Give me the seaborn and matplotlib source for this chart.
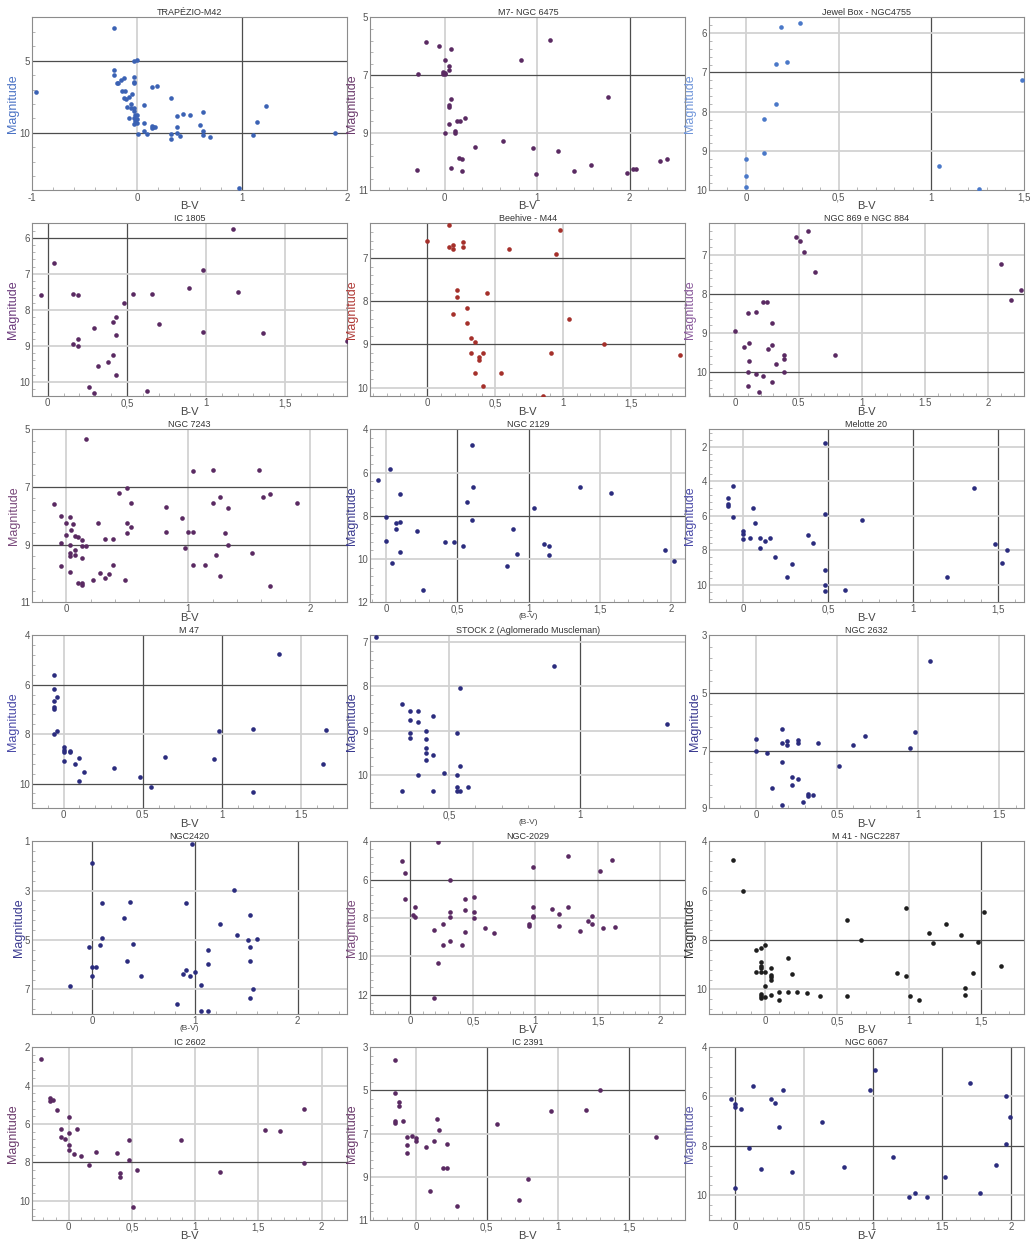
import matplotlib
matplotlib.use("Agg")
import pandas as pd
import matplotlib.pyplot as plt
import seaborn as sns
from matplotlib.ticker import FixedLocator, FixedFormatter, AutoMinorLocator

# ===========================================================
# Data: B-V colour index and visual magnitude per cluster
# ===========================================================

trap_bv = [-0.22, -0.96, -0.22, -0.22, -0.03, 0.00, -0.19, -0.12, -0.15, -0.18, -0.14, -0.11, -0.05, -0.03,
           -0.03, -0.03, -0.12, -0.10, -0.08, -0.06, -0.09, -0.06, -0.03, -0.03, -0.08, -0.02, 0.00, -0.03,
           0.00, -0.02, 0.00, -0.03, 0.01, 0.07, 0.07, 0.07, 0.10, 0.14, 0.15, 0.17, 0.14, 0.14, 0.19, 0.32,
           0.32, 0.32, 0.38, 0.38, 0.38, 0.41, 0.44, 0.51, 0.60, 0.63, 0.63, 0.63, 0.70, 0.97, 1.11, 1.14,
           1.23, 1.89]
trap_mag = [2.75, 7.15, 5.67, 6.02, 5.00, 4.98, 6.53, 6.23, 6.37, 6.55, 7.10, 7.10, 7.29, 6.13, 6.46, 6.55,
            7.60, 7.65, 7.55, 8.03, 8.20, 8.30, 8.25, 8.50, 9.00, 8.75, 8.80, 8.95, 9.05, 9.20, 9.35, 9.40,
            10.10, 9.30, 8.10, 9.90, 10.10, 9.50, 9.60, 9.60, 9.65, 6.83, 6.74, 7.60, 10.10, 10.40, 8.87, 9.60,
            10.00, 10.20, 8.70, 8.80, 9.47, 8.54, 9.88, 10.16, 10.30, 13.80, 10.14, 9.28, 8.12, 10.00]

m7_bv = [-0.20, -0.06, 0.07, 1.14, 0.83, 0.00, 0.05, 0.05, -0.29, -0.02, 0.00, -0.02, 0.01, 1.77, 0.07,
         0.05, 0.05, 0.14, 0.17, 0.22, 0.05, 0.11, 0.11, 0.00, 0.63, 0.33, 0.95, 1.23, 0.16, 0.19, -0.30,
         0.07, 0.19, 0.99, 1.40, 1.58, 1.97, 2.04, 2.07, 2.33, 2.40]
m7_mag = [5.86, 6.00, 6.09, 5.79, 6.46, 6.49, 6.69, 6.84, 6.95, 6.88, 6.93, 6.95, 6.95, 7.75, 7.84, 8.05,
          8.10, 8.59, 8.59, 8.49, 8.68, 8.93, 9.00, 8.99, 9.28, 9.48, 9.53, 9.63, 9.88, 9.92, 10.28, 10.22,
          10.33, 10.43, 10.33, 10.13, 10.38, 10.27, 10.24, 9.98, 9.92]

jewel_bv = [0.19, 0.29, 0.16, 0.22, 0.16, 0.10, 0.10, 0.00, 0.00, 0.00, 1.04, 1.26, 1.49]
jewel_mag = [5.84, 5.73, 6.79, 6.74, 7.79, 8.19, 9.04, 9.20, 9.64, 9.90, 9.39, 9.96, 7.20]

ic1805_bv = [1.17, 0.04, 0.98, -0.04, 0.16, 0.19, 0.54, 0.66, 0.89, 1.20, 0.48, 0.43, 0.41, 0.70, 0.29,
             0.43, 0.98, 1.36, 0.16, 0.19, 0.19, 0.41, 0.38, 0.32, 0.43, 0.26, 0.29, 0.63, 1.89]
ic1805_mag = [5.75, 6.70, 6.90, 7.60, 7.55, 7.60, 7.55, 7.55, 7.39, 7.50, 7.80, 8.20, 8.35, 8.40, 8.50,
              8.70, 8.60, 8.65, 8.95, 8.80, 9.00, 9.26, 9.45, 9.55, 9.80, 10.15, 10.30, 10.25, 8.85]

m44_bv = [0.16, 0.00, 0.16, 0.19, 0.19, 0.26, 0.26, 0.98, 0.60, 0.95, 0.22, 0.22, 0.44, 0.29, 0.19, 0.29,
          1.04, 0.32, 0.35, 0.32, 0.41, 0.38, 0.38, 0.91, 1.30, 1.86, 0.35, 0.54, 0.41, 0.85]
m44_mag = [6.24, 6.60, 6.75, 6.70, 6.80, 6.64, 6.75, 6.36, 6.80, 6.90, 7.74, 7.90, 7.80, 8.15, 8.30, 8.50,
           8.40, 8.85, 8.95, 9.20, 9.20, 9.30, 9.35, 9.20, 9.00, 9.24, 9.65, 9.65, 9.95, 10.19]

ngc869_bv = [0.57, 0.48, 0.51, 0.54, 0.63, 2.10, 2.26, 2.18, 0.22, 0.25, 0.10, 0.16, 0.29, 0.00, 0.07,
             0.11, 0.29, 0.26, 0.38, 0.38, 0.79, 0.11, 0.32, 0.10, 0.16, 0.22, 0.38, 0.29, 0.10, 0.19]
ngc869_mag = [6.39, 6.54, 6.64, 6.94, 7.45, 7.24, 7.90, 8.15, 8.20, 8.20, 8.50, 8.46, 8.75, 8.96, 9.36,
              9.26, 9.31, 9.41, 9.55, 9.66, 9.55, 9.71, 9.80, 10.00, 10.05, 10.10, 10.00, 10.25, 10.35, 10.50]

ngc7243_bv = [0.16, 1.04, 1.20, 1.58, 0.43, 0.50, 1.20, 1.26, 1.61, 1.67, 1.89, 0.53, -0.10, 0.82, 1.33,
              -0.04, 0.03, 0.95, 0.00, 0.06, 0.26, 0.50, 0.53, 0.04, 0.00, 0.07, 0.10, 0.50, 0.82, 1.00,
              1.04, 1.30, 0.13, 0.32, 0.38, -0.04, 0.03, 0.13, 0.16, 0.97, 1.33, 0.07, 0.03, 0.03, 0.07,
              0.13, 1.23, 1.52, -0.04, 0.38, 1.04, 1.14, 0.03, 0.28, 0.35, 0.32, 1.26, 0.22, 0.48, 0.10,
              0.13, 0.13, 1.67]
ngc7243_mag = [5.34, 6.44, 6.40, 6.40, 7.20, 7.05, 7.55, 7.34, 7.35, 7.25, 7.55, 7.55, 7.60, 7.70, 7.74,
               8.00, 8.05, 8.08, 8.25, 8.30, 8.25, 8.25, 8.40, 8.50, 8.65, 8.70, 8.72, 8.60, 8.55, 8.55,
               8.55, 8.60, 8.84, 8.80, 8.80, 8.95, 9.00, 9.04, 9.04, 9.10, 9.00, 9.20, 9.30, 9.40, 9.35,
               9.45, 9.35, 9.30, 9.75, 9.70, 9.70, 9.70, 9.95, 10.00, 10.03, 10.14, 10.10, 10.24, 10.24,
               10.34, 10.34, 10.40, 10.44]

ngc2129_bv = [0.60, 0.03, -0.06, 0.61, 1.36, 1.58, 0.10, 0.57, 1.04, 0.00, 0.60, 0.07, 0.10, 0.07, 0.22,
              0.89, 0.00, 0.41, 0.48, 0.54, 1.11, 1.14, 0.10, 0.92, 1.14, 0.04, 0.85, 1.96, 2.02, 0.26]
ngc2129_mag = [4.72, 5.85, 6.35, 6.69, 6.65, 6.95, 7.00, 7.35, 7.62, 8.06, 8.20, 8.35, 8.30, 8.60, 8.70,
               8.60, 9.15, 9.20, 9.20, 9.40, 9.30, 9.40, 9.66, 9.75, 9.80, 10.17, 10.32, 9.60, 10.10, 11.43]

mel20_bv = [0.48, -0.06, 1.36, -0.09, -0.09, -0.09, 0.06, -0.06, 0.48, 0.07, 0.70, 0.00, 0.00, 0.00, 0.04,
            0.10, 0.13, 0.16, 0.38, 0.41, 0.10, 0.19, 0.29, 1.48, 1.55, 1.52, 0.26, 0.48, 1.20, 0.48, 0.48,
            0.60]
mel20_mag = [1.77, 4.30, 4.37, 4.96, 5.30, 5.45, 5.56, 6.06, 5.90, 6.40, 6.25, 6.90, 7.04, 7.35, 7.27,
             7.27, 7.46, 7.30, 7.12, 7.60, 7.87, 8.37, 8.80, 7.65, 7.96, 8.70, 9.56, 9.15, 9.56, 10.00,
             10.37, 10.27]

m47_bv = [1.36, -0.06, -0.06, -0.04, -0.06, -0.06, -0.06, -0.04, -0.06, 0.98, 1.20, 1.66, 0.00, 0.00,
          0.00, 0.04, 0.04, 0.00, 0.10, 0.07, 0.13, 0.10, 0.32, 0.48, 0.55, 0.64, 0.95, 1.20, 1.64]
m47_mag = [4.78, 5.61, 6.17, 6.48, 6.68, 6.90, 6.98, 7.87, 7.99, 7.89, 7.79, 7.84, 8.54, 8.63, 8.72, 8.67,
           8.74, 9.07, 8.97, 9.23, 9.53, 9.88, 9.37, 9.73, 10.13, 8.91, 9.02, 10.34, 9.23]

stock2_bv = [0.22, 0.90, 0.54, 0.32, 0.35, 0.38, 0.35, 0.38, 0.44, 0.41, 0.35, 0.35, 0.41, 0.53, 0.41,
             0.41, 0.44, 0.41, 0.54, 0.48, 0.38, 0.53, 0.53, 0.57, 0.32, 0.44, 0.53, 0.54, 1.33]
stock2_mag = [6.90, 7.55, 8.05, 8.40, 8.56, 8.56, 8.76, 8.80, 8.66, 9.00, 9.05, 9.16, 9.20, 9.05, 9.40,
              9.50, 9.56, 9.66, 9.80, 9.96, 10.00, 10.00, 10.26, 10.26, 10.36, 10.36, 10.36, 10.36, 8.85]

ngc2632_bv = [1.07, 0.16, 0.98, 0.67, 0.00, 0.26, 0.26, 0.19, 0.19, 0.16, 0.38, 0.60, 0.95, 0.00, 0.07,
              0.16, 0.51, 0.22, 0.26, 0.22, 0.10, 0.32, 0.32, 0.35, 0.29, 0.16]
ngc2632_mag = [3.89, 6.25, 6.34, 6.49, 6.60, 6.64, 6.73, 6.68, 6.79, 6.74, 6.74, 6.79, 6.90, 7.00, 7.09,
               7.40, 7.54, 7.90, 8.00, 8.20, 8.30, 8.50, 8.58, 8.55, 8.80, 8.90]

ngc2420_bv = [0.97, 0.00, 1.38, 0.09, 0.37, 0.91, 1.54, 0.31, 1.24, 1.41, 0.09, 1.52, 1.60, 0.07, 0.40,
              -0.03, 1.54, 1.13, 0.34, 1.54, 1.13, 0.00, 0.03, 0.91, 1.00, 0.88, 0.95, 0.00, 0.47, 1.06,
              -0.22, 1.57, 1.54, 0.82, 1.06, 1.13]
ngc2420_mag = [1.11, 1.87, 2.97, 3.50, 3.46, 3.50, 4.00, 4.10, 4.36, 4.80, 4.90, 5.00, 4.96, 5.20, 5.16,
               5.30, 5.27, 5.42, 5.86, 5.86, 5.97, 6.11, 6.11, 6.20, 6.30, 6.37, 6.46, 6.46, 6.46, 6.81,
               6.87, 6.97, 7.36, 7.60, 7.87, 7.87]

ngc2029_bv = [0.22, 1.26, -0.07, 1.61, -0.04, 0.98, 1.52, 0.32, -0.04, 0.44, 0.51, 0.04, 0.44, 0.32, 0.32,
              0.51, 0.98, 0.98, 0.98, 1.13, 1.26, 1.19, 1.45, 1.42, 1.45, 0.02, 0.04, 0.51, 0.26, 0.95,
              0.95, 1.19, 1.54, 1.36, 0.60, 0.44, 0.67, 1.64, 0.19, 0.26, 0.32, 0.41, 0.22, 0.19]
ngc2029_mag = [4.03, 4.79, 5.05, 5.00, 5.68, 5.34, 5.55, 6.04, 6.99, 6.99, 6.90, 7.45, 7.57, 7.70, 7.93,
               7.70, 7.45, 7.87, 7.93, 7.54, 7.45, 7.80, 7.90, 8.14, 8.30, 7.83, 7.95, 8.00, 8.31, 8.30,
               8.43, 8.43, 8.50, 8.69, 8.54, 8.74, 8.79, 8.48, 8.64, 9.40, 9.19, 9.40, 10.36, 12.16]

m41_bv = [-0.22, -0.15, 0.98, 1.52, 0.57, 1.26, 1.14, 1.36, 0.67, 1.17, 1.48, 0.00, -0.03, -0.06, 0.16,
          -0.03, -0.03, -0.03, 0.04, 1.64, -0.06, -0.03, 0.00, 0.19, 0.04, 0.04, 0.04, 0.92, 0.98, 1.45,
          0.00, 1.39, 0.10, 0.16, 0.22, 0.29, -0.03, -0.03, -0.03, 0.00, 0.04, 0.10, 0.38, 0.57, 1.01,
          1.07, 1.39]
m41_mag = [4.77, 6.00, 6.72, 6.86, 7.20, 7.36, 7.71, 7.78, 7.98, 8.13, 8.08, 8.22, 8.31, 8.42, 8.72, 8.88,
           9.05, 9.12, 9.12, 9.07, 9.28, 9.28, 9.28, 9.38, 9.42, 9.51, 9.60, 9.34, 9.47, 9.34, 9.87, 9.93,
           10.09, 10.09, 10.09, 10.14, 10.20, 10.28, 10.35, 10.29, 10.22, 10.42, 10.28, 10.28, 10.28,
           10.42, 10.22]

ic2602_bv = [-0.22, -0.15, -0.15, -0.12, -0.09, 0.00, 1.86, -0.06, 0.07, 0.00, 1.55, 1.67, -0.06, -0.03,
             0.48, 0.89, 0.00, 0.00, 0.04, 0.10, 0.22, 0.38, 0.48, 0.16, 1.86, 0.54, 1.20, 0.41, 0.41, 0.51]
ic2602_mag = [2.63, 4.65, 4.79, 4.75, 5.26, 5.66, 5.20, 6.25, 6.25, 6.46, 6.32, 6.36, 6.69, 6.77, 6.86,
              6.86, 7.12, 7.38, 7.54, 7.68, 7.44, 7.52, 7.89, 8.13, 8.05, 8.40, 8.50, 8.53, 8.74, 10.31]

ic2391_bv = [-0.15, -0.15, -0.12, -0.12, -0.15, -0.15, -0.09, 0.15, 0.16, 0.57, 0.95, 1.20, 1.30, 1.69,
             -0.06, -0.03, 0.00, 0.00, 0.13, 0.22, -0.06, 0.07, -0.06, 0.19, 0.22, 0.79, 0.10, 0.73, 0.29]
ic2391_mag = [3.58, 5.13, 5.52, 5.72, 6.42, 6.52, 6.42, 6.32, 6.82, 6.58, 5.97, 5.92, 4.97, 7.16, 7.16,
              7.11, 7.20, 7.33, 7.33, 7.46, 7.52, 7.62, 7.92, 8.58, 8.61, 9.12, 9.67, 10.05, 10.37]

ngc6067_bv = [1.01, 1.70, 0.13, 0.35, 0.98, -0.03, 0.26, 0.29, 0.00, 0.00, 0.04, 1.96, 1.99, 0.63, 0.32,
              1.96, 0.10, 1.14, 0.79, 1.89, 0.19, 0.41, 1.52, 0.00, 1.26, 1.30, 1.39, 1.77]
ngc6067_mag = [4.93, 5.44, 5.59, 5.74, 5.74, 6.09, 6.09, 6.25, 6.32, 6.43, 6.49, 5.99, 6.84, 7.03, 7.25,
               7.91, 8.10, 8.43, 8.84, 8.76, 8.95, 9.05, 9.24, 9.70, 10.06, 9.90, 10.06, 9.90]

# ===========================================================
# Panel settings (title, data, colours, axis ranges, grid)
# ===========================================================

BLUE = "#3b62b4"
LBLUE = "#4a78c8"
PURP = "#5a2a62"
RED = "#a5302b"
NAVY = "#2b2c7e"
BLACK = "#1e1e1e"

panels = [
    dict(title="TRAPÉZIO-M42", bv=trap_bv, mag=trap_mag, c=BLUE, yc="#4a72c4",
         xlim=(-1, 2), ylim=(2, 14), xt=[-1, 0, 1, 2], yt=[5, 10], dx=[1], dy=[5, 10]),
    dict(title="M7- NGC 6475", bv=m7_bv, mag=m7_mag, c=PURP, yc="#6b3a6c",
         xlim=(-0.8, 2.6), ylim=(5, 11), xt=[0, 1, 2], yt=[5, 7, 9, 11], dx=[2], dy=[7]),
    dict(title="Jewel Box - NGC4755", bv=jewel_bv, mag=jewel_mag, c=LBLUE, yc="#7096da",
         xlim=(-0.2, 1.5), ylim=(5.6, 10), xt=[0, 0.5, 1, 1.5], yt=[6, 7, 8, 9, 10], dx=[1], dy=[7]),
    dict(title="IC 1805", bv=ic1805_bv, mag=ic1805_mag, c=PURP, yc="#6b3a7c",
         xlim=(-0.1, 1.89), ylim=(5.6, 10.4), xt=[0, 0.5, 1, 1.5], yt=[6, 7, 8, 9, 10], dx=[0, 0.5], dy=[6]),
    dict(title="Beehive - M44", bv=m44_bv, mag=m44_mag, c=RED, yc="#b03a36",
         xlim=(-0.42, 1.9), ylim=(6.2, 10.2), xt=[0, 0.5, 1, 1.5], yt=[7, 8, 9, 10], dx=[0], dy=[7, 8, 9]),
    dict(title="NGC 869 e NGC 884", bv=ngc869_bv, mag=ngc869_mag, c=PURP, yc="#8a5a9c",
         xlim=(-0.21, 2.28), ylim=(6.2, 10.62), xt=[0, 0.5, 1, 1.5, 2], yt=[7, 8, 9, 10], dx=[], dy=[8, 10],
         dot=True),
    dict(title="NGC 7243", bv=ngc7243_bv, mag=ngc7243_mag, c=PURP, yc="#7a4a7c",
         xlim=(-0.28, 2.3), ylim=(5, 11), xt=[0, 1, 2], yt=[5, 7, 9, 11], dx=[], dy=[7, 9]),
    dict(title="NGC 2129", bv=ngc2129_bv, mag=ngc2129_mag, c=NAVY, yc="#3a3a90",
         xlim=(-0.11, 2.1), ylim=(4, 12), xt=[0, 0.5, 1, 1.5, 2], yt=[4, 6, 8, 10, 12], dx=[0.5, 1], dy=[8],
         xl="(B-V)"),
    dict(title="Melotte 20", bv=mel20_bv, mag=mel20_mag, c=NAVY, yc="#4a4aa8",
         xlim=(-0.2, 1.65), ylim=(1, 11), xt=[0, 0.5, 1, 1.5], yt=[2, 4, 6, 8, 10], dx=[0.5, 1, 1.5], dy=[]),
    dict(title="M 47", bv=m47_bv, mag=m47_mag, c=NAVY, yc="#4a4aa8",
         xlim=(-0.2, 1.79), ylim=(4, 11), xt=[0, 0.5, 1, 1.5], yt=[4, 6, 8, 10], dx=[0.5, 1], dy=[6, 10],
         dot=True),
    dict(title="STOCK 2 (Aglomerado Muscleman)", bv=stock2_bv, mag=stock2_mag, c=NAVY, yc="#3a3a90",
         xlim=(0.2, 1.4), ylim=(6.85, 10.75), xt=[0.5, 1], yt=[7, 8, 9, 10], dx=[1], dy=[],
         xl="(B-V)"),
    dict(title="NGC 2632", bv=ngc2632_bv, mag=ngc2632_mag, c=NAVY, yc="#3a3a90",
         xlim=(-0.29, 1.65), ylim=(3, 9), xt=[0, 0.5, 1, 1.5], yt=[3, 5, 7, 9], dx=[], dy=[5, 7], dot=True),
    dict(title="NGC2420", bv=ngc2420_bv, mag=ngc2420_mag, c=NAVY, yc="#3a3a90",
         xlim=(-0.59, 2.48), ylim=(1, 8), xt=[0, 1, 2], yt=[1, 3, 5, 7], dx=[0, 1, 2], dy=[], xl="(B-V)"),
    dict(title="NGC-2029", bv=ngc2029_bv, mag=ngc2029_mag, c=PURP, yc="#7a4a7c",
         xlim=(-0.32, 2.2), ylim=(4, 13), xt=[0, 0.5, 1, 1.5, 2], yt=[4, 6, 8, 10, 12], dx=[0], dy=[6, 12]),
    dict(title="M 41 - NGC2287", bv=m41_bv, mag=m41_mag, c=BLACK, yc="#333333",
         xlim=(-0.39, 1.8), ylim=(4, 11), xt=[0, 0.5, 1, 1.5], yt=[4, 6, 8, 10], dx=[1.5], dy=[8]),
    dict(title="IC 2602", bv=ic2602_bv, mag=ic2602_mag, c=PURP, yc="#6b3a6c",
         xlim=(-0.29, 2.2), ylim=(2, 11), xt=[0, 0.5, 1, 1.5, 2], yt=[2, 4, 6, 8, 10], dx=[], dy=[8]),
    dict(title="IC 2391", bv=ic2391_bv, mag=ic2391_mag, c=PURP, yc="#6b3a6c",
         xlim=(-0.32, 1.9), ylim=(3, 11), xt=[0, 0.5, 1, 1.5], yt=[3, 5, 7, 9, 11], dx=[0.5, 1.5], dy=[5]),
    dict(title="NGC 6067", bv=ngc6067_bv, mag=ngc6067_mag, c=NAVY, yc="#5a5aa8",
         xlim=(-0.19, 2.09), ylim=(4, 11), xt=[0, 0.5, 1, 1.5, 2], yt=[4, 6, 8, 10], dx=[0, 1, 1.5, 2],
         dy=[8], dot=True),
]

# ===========================================================
# Plot
# ===========================================================

sns.set_theme(style="white")
plt.rcParams["font.family"] = ["Liberation Sans", "DejaVu Sans"]

fig, axes = plt.subplots(6, 3, figsize=(10.31, 12.45), dpi=100)
fig.subplots_adjust(left=0.031, right=0.993, top=0.986, bottom=0.02, wspace=0.075, hspace=0.19)

LIGHT = "#d2d2d2"
DARK = "#4d4d4d"


def tick_text(v, dot):
    s = f"{v:g}"
    return s if dot else s.replace(".", ",")


for ax, p in zip(axes.flat, panels):
    df = pd.DataFrame({"B-V": p["bv"], "Magnitude": p["mag"]})

    # grid lines first so the points sit on top
    for v in p["xt"]:
        if p["xlim"][0] < v < p["xlim"][1]:
            dark = v in p["dx"]
            ax.axvline(v, color=DARK if dark else LIGHT, lw=0.9 if dark else 1.3, zorder=0)
    for v in p["yt"]:
        if p["ylim"][0] < v < p["ylim"][1]:
            dark = v in p["dy"]
            ax.axhline(v, color=DARK if dark else LIGHT, lw=0.9 if dark else 1.3, zorder=0)

    sns.scatterplot(data=df, x="B-V", y="Magnitude", ax=ax, color=p["c"], s=11,
                    linewidth=0, zorder=3)

    ax.set_xlim(*p["xlim"])
    ax.set_ylim(p["ylim"][1], p["ylim"][0])

    ax.xaxis.set_major_locator(FixedLocator(p["xt"]))
    ax.xaxis.set_major_formatter(FixedFormatter([tick_text(v, p.get("dot", False)) for v in p["xt"]]))
    ax.yaxis.set_major_locator(FixedLocator(p["yt"]))
    ax.yaxis.set_major_formatter(FixedFormatter([tick_text(v, True) for v in p["yt"]]))
    ax.xaxis.set_minor_locator(AutoMinorLocator(5))
    ax.yaxis.set_minor_locator(AutoMinorLocator(5))
    ax.tick_params(which="major", length=0, labelsize=7, labelcolor="#555555", pad=1.5)
    ax.tick_params(which="minor", length=2, width=0.5, color="#999999", direction="in",
                   bottom=True, left=True)

    for sp in ax.spines.values():
        sp.set_color("#8c8c8c")
        sp.set_linewidth(0.8)

    ax.set_title(p["title"], fontsize=6.5, color="#333333", pad=1.5)
    xl = p.get("xl", "B-V")
    ax.set_xlabel(xl, fontsize=6 if xl.startswith("(") else 8, color="#444444", labelpad=-1)
    ax.set_ylabel("Magnitude", fontsize=9, color=p["yc"], labelpad=0)

plt.savefig("out.png", dpi=100)
